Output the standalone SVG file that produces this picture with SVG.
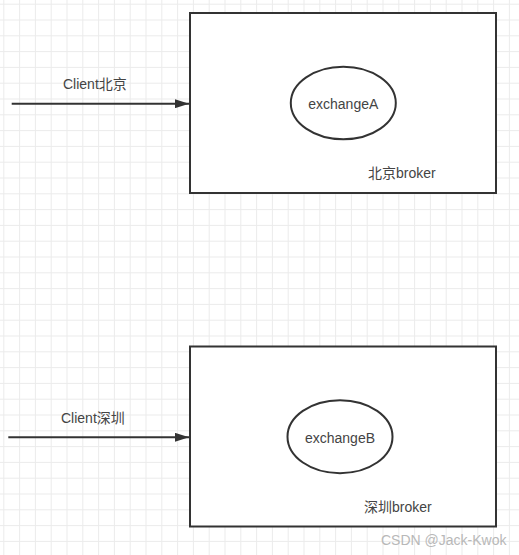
<svg xmlns="http://www.w3.org/2000/svg" width="519" height="555" viewBox="0 0 519 555">
<defs>
<pattern id="grid" x="3.3" y="3.7" width="15.8" height="15.8" patternUnits="userSpaceOnUse">
<path d="M0 0.5 H15.8 M0.5 0 V15.8" fill="none" stroke="#ebebeb" stroke-width="1"/>
</pattern>
<marker id="arrow" markerWidth="14" markerHeight="9" refX="14" refY="4.5" orient="auto" markerUnits="userSpaceOnUse">
<path d="M0 0 L14 4.5 L0 9 Z" fill="#333"/>
</marker>
</defs>
<style>
.box{fill:#fff;stroke:#333;stroke-width:2}
.ell{fill:#fff;stroke:#333;stroke-width:2}
.edge{stroke:#333;stroke-width:2;fill:none}
.t{font-family:"Liberation Sans","Noto Sans CJK SC",sans-serif;font-size:14px;fill:#444}
.wm{font-family:"Liberation Sans","Noto Sans CJK SC",sans-serif;font-size:14px;fill:#b8b8b8}
</style>
<rect width="519" height="555" fill="#fff"/>
<rect width="519" height="555" fill="url(#grid)"/>
<g id="brokerBJ">
<rect class="box" x="190" y="13" width="306" height="180"/>
<text class="t" x="368" y="178">北京broker</text>
</g>
<g id="exchangeA">
<ellipse class="ell" cx="343.3" cy="103" rx="52.5" ry="36.3"/>
<text class="t" x="343.3" y="109" text-anchor="middle">exchangeA</text>
</g>
<g id="brokerSZ">
<rect class="box" x="190" y="346.5" width="306" height="180"/>
<text class="t" x="364" y="511.5">深圳broker</text>
</g>
<g id="exchangeB">
<ellipse class="ell" cx="340" cy="436.7" rx="52.5" ry="36.5"/>
<text class="t" x="340" y="443" text-anchor="middle">exchangeB</text>
</g>
<g id="connectors">
<line class="edge" x1="11.7" y1="103.7" x2="189" y2="103.7" marker-end="url(#arrow)"/>
<text class="t" x="63" y="89">Client北京</text>
<line class="edge" x1="8.3" y1="437.3" x2="189" y2="437.3" marker-end="url(#arrow)"/>
<text class="t" x="61" y="423">Client深圳</text>
</g>
<text class="wm" x="381" y="545">CSDN @Jack-Kwok</text>
</svg>
